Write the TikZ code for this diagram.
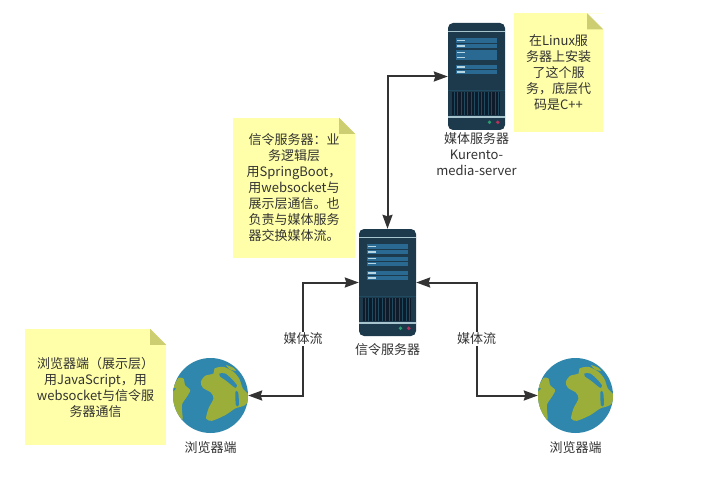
\documentclass[tikz,border=0pt]{standalone}
\usepackage{fontspec}
\setmainfont{Noto Sans CJK SC}
\usetikzlibrary{arrows.meta}
\definecolor{notey}{HTML}{FFFFA9}
\definecolor{notef}{HTML}{CDCD72}
\definecolor{srvbody}{HTML}{1D3A4C}
\definecolor{srvbar}{HTML}{2A6A92}
\definecolor{srvdash}{HTML}{B5D6E2}
\definecolor{srvline}{HTML}{A8C4CE}
\definecolor{srvvent}{HTML}{0E1B2A}
\definecolor{srvstrip}{HTML}{1F4A60}
\definecolor{srvgreen}{HTML}{2A9D6F}
\definecolor{srvred}{HTML}{B8305C}
\definecolor{sea}{HTML}{2F87AD}
\definecolor{land}{HTML}{9BAE3A}
\definecolor{ink}{HTML}{333333}
\tikzset{
  txt/.style={font=\fontsize{13}{16}\selectfont,text=ink,align=center,inner sep=0pt},
  notebox/.style={txt,fill=notey,anchor=center},
  srvbox/.style={rectangle,rounded corners=5pt,fill=srvbody,minimum width=57pt,minimum height=107pt,inner sep=0pt},
  globe/.style={circle,fill=sea,minimum size=75pt,inner sep=0pt},
  link/.style={draw=ink,line width=2pt,{Stealth[length=14pt,width=10pt,inset=1.5pt]}-{Stealth[length=14pt,width=10pt,inset=1.5pt]}},
  flowlabel/.style={txt,fill=white,inner sep=1pt}
}
\newcommand{\noteFold}[1]{%
  \fill[white] (#1.north east) ++(-16,0) -- ++(16,16) -- ++(0,-16) -- cycle;
  \fill[notef] (#1.north east) ++(-16,0) -- ++(16,16) -- ++(-16,0) -- cycle;
}
\newcommand{\serverArt}[1]{%
  \begin{scope}[shift={(#1.north west)}]
    \fill[srvline] (0,8) rectangle (57,9.5);
    \foreach \a/\b in {15.3/20,21/25.3,27.7/32,32.7/37,42/46,47/51.3}{
      \fill[srvbar] (8.3,\a) rectangle (49,\b);
      \fill[srvdash] (9,{(\a+\b)/2-0.8}) rectangle (17,{(\a+\b)/2+0.8});
    }
    \fill[srvstrip] (0,67.5) rectangle (57,68.5);
    \fill[srvvent] (4,69.5) rectangle (52,92);
    \foreach \k in {0,...,13}{
      \fill[srvstrip] ({6+\k*3.4},69.5) rectangle ({7+\k*3.4},92);
    }
    \fill[srvline] (0,93.5) rectangle (57,95);
    \fill[srvgreen] (41.7,99.5) circle (1.9);
    \fill[srvred] (50,99.5) circle (1.9);
  \end{scope}
}
\newcommand{\globeArt}[1]{%
  \begin{scope}
    \clip (#1.center) circle (37.5);
    \begin{scope}[shift={(#1.center)},scale=1/3,shift={(-121,-121)}]
      \fill[land] plot[smooth cycle,tension=.45] coordinates {(92,80) (105,62) (130,55) (133,40) (160,35) (190,50) (208,72) (218,100) (240,125) (224,150) (195,160) (165,180) (125,197) (108,190) (115,160) (130,130) (122,112) (98,98)};
      \fill[land] plot[smooth cycle,tension=.45] coordinates {(0,110) (15,85) (25,68) (40,70) (45,90) (60,105) (50,125) (35,150) (36,195) (0,150)};
      \fill[sea] plot[smooth cycle,tension=.45] coordinates {(148,55) (165,55) (185,72) (200,90) (195,98) (170,78) (150,64)};
      \fill[sea] plot[smooth cycle,tension=.45] coordinates {(196,110) (204,112) (206,150) (197,150)};
      \fill[land] plot[smooth cycle,tension=.45] coordinates {(208,120) (217,125) (219,148) (210,146)};
      \fill[land] plot[smooth cycle,tension=.45] coordinates {(168,30) (190,38) (197,47) (180,43)};
      \fill[sea] (8,98) -- (18,100) -- (10,108) -- cycle;
    \end{scope}
  \end{scope}
}
\begin{document}
\begin{tikzpicture}[x=1pt,y=-1pt]
  \useasboundingbox (0,0) rectangle (708,478);
  \fill[white] (0,0) rectangle (708,478);

  \node[notebox,minimum width=89pt,minimum height=119pt] (n1) at (558.5,73) {在Linux服\\务器上安装\\了这个服\\务，底层代\\码是C++};
  \node[notebox,minimum width=122pt,minimum height=140pt] (n2) at (294,188) {信令服务器：业\\务逻辑层\\用SpringBoot，\\用websocket与\\展示层通信。也\\负责与媒体服务\\器交换媒体流。};
  \node[notebox,minimum width=141pt,minimum height=116pt] (n3) at (95.5,387) {浏览器端（展示层）\\用JavaScript，用\\websocket与信令服\\务器通信};
  \noteFold{n1}\noteFold{n2}\noteFold{n3}

  \node[srvbox] (s1) at (387.5,282.5) {};
  \node[srvbox] (s2) at (476.5,76.5) {};
  \serverArt{s1}\serverArt{s2}

  \node[globe] (g1) at (210.5,395.5) {};
  \node[globe] (g2) at (575.5,395.5) {};
  \globeArt{g1}\globeArt{g2}

  \coordinate (c1) at (303,339);
  \coordinate (c2) at (476.5,339);
  \draw[link] (s1.north) |- (s2.west);
  \draw[link] (s1.west) -| (c1) |- (g1.east);
  \draw[link] (s1.east) -| (c2) |- (g2.west);
  \node[flowlabel] (l1) at (c1) {媒体流};
  \node[flowlabel] (l2) at (c2) {媒体流};

  \node[txt] (t1) at (387.5,350) {信令服务器};
  \node[txt] (t2) at (476.5,154) {媒体服务器\\Kurento-\\media-server};
  \node[txt] (t3) at (210.5,448) {浏览器端};
  \node[txt] (t4) at (575.5,448) {浏览器端};
\end{tikzpicture}
\end{document}
